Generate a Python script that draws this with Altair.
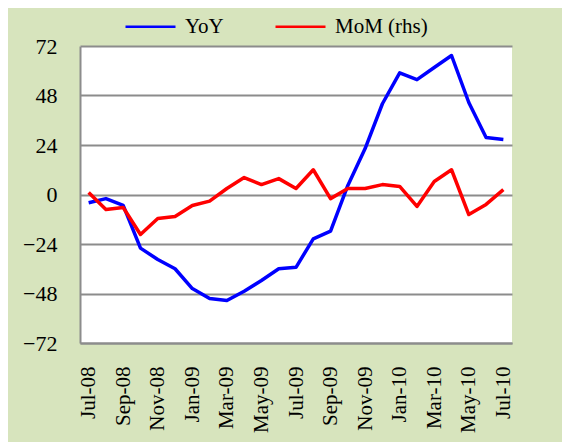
import altair as alt
import pandas as pd

months = ["Jul-08", "Aug-08", "Sep-08", "Oct-08", "Nov-08", "Dec-08",
          "Jan-09", "Feb-09", "Mar-09", "Apr-09", "May-09", "Jun-09",
          "Jul-09", "Aug-09", "Sep-09", "Oct-09", "Nov-09", "Dec-09",
          "Jan-10", "Feb-10", "Mar-10", "Apr-10", "May-10", "Jun-10", "Jul-10"]
yoy = [-4, -2, -5.3, -26, -31.5, -36, -45.6, -50.4, -51.4, -46.9, -41.7, -36,
       -35.3, -21.5, -17.8, 4.4, 22.3, 44, 59, 55.7, 61.6, 67.4, 44.6, 27.6, 26.7]
mom = [1, -7.3, -6.3, -19.4, -11.6, -10.7, -5.3, -3.2, 2.9, 8.2, 4.8, 7.7,
       2.9, 12, -2, 2.9, 2.9, 4.8, 3.9, -5.8, 6.3, 12, -9.7, -4.8, 2.4]
series = ["YoY", "MoM (rhs)"]
colors = ["#0000FF", "#FF0000"]
tick_labels = months[::2]
y_ticks = [-72, -48, -24, 0, 24, 48, 72]

rows = []
for i, m in enumerate(months):
    rows.append({"month": m, "series": series[0], "value": yoy[i], "ord": i})
    rows.append({"month": m, "series": series[1], "value": mom[i], "ord": i})
df = pd.DataFrame(rows)

FONT = "Liberation Serif"

chart = alt.Chart(df).mark_line(strokeWidth=3.5, strokeJoin="round").encode(
    x=alt.X("month:N", sort=months, title=None,
            scale=alt.Scale(padding=0.5),
            axis=alt.Axis(values=tick_labels, labelAngle=-90, labelFontSize=21,
                          labelPadding=23, ticks=False, domain=True,
                          domainColor="#8c8c8c", domainWidth=2, grid=False,
                          labelFont=FONT, labelColor="#000000", labelBaseline="middle")),
    y=alt.Y("value:Q", title=None,
            scale=alt.Scale(domain=[-72, 72], nice=False, zero=False),
            axis=alt.Axis(values=y_ticks, labelFontSize=22, labelPadding=23,
                          ticks=False, domain=True, domainColor="#8c8c8c",
                          domainWidth=2, grid=True, gridColor="#8c8c8c",
                          gridWidth=2, labelFont=FONT, labelColor="#000000")),
    color=alt.Color("series:N", sort=series,
                    scale=alt.Scale(domain=series, range=colors),
                    legend=alt.Legend(title=None, orient="none", direction="horizontal",
                                      legendX=44, legendY=-46, symbolType="stroke",
                                      symbolSize=2500, symbolStrokeWidth=2.5,
                                      labelFont=FONT, labelFontSize=21,
                                      labelColor="#000000", labelOffset=8,
                                      columnPadding=46, padding=0)),
    order="ord:Q",
).properties(
    width=432, height=297,
    background="#D7E4BD",
    autosize=alt.AutoSizeParams(type="none"),
    padding={"left": 72, "top": 38, "right": 50, "bottom": 99},
).configure_view(fill="#FFFFFF", stroke=None)

chart.save("out.html", embed_options={"renderer": "svg", "actions": False})
